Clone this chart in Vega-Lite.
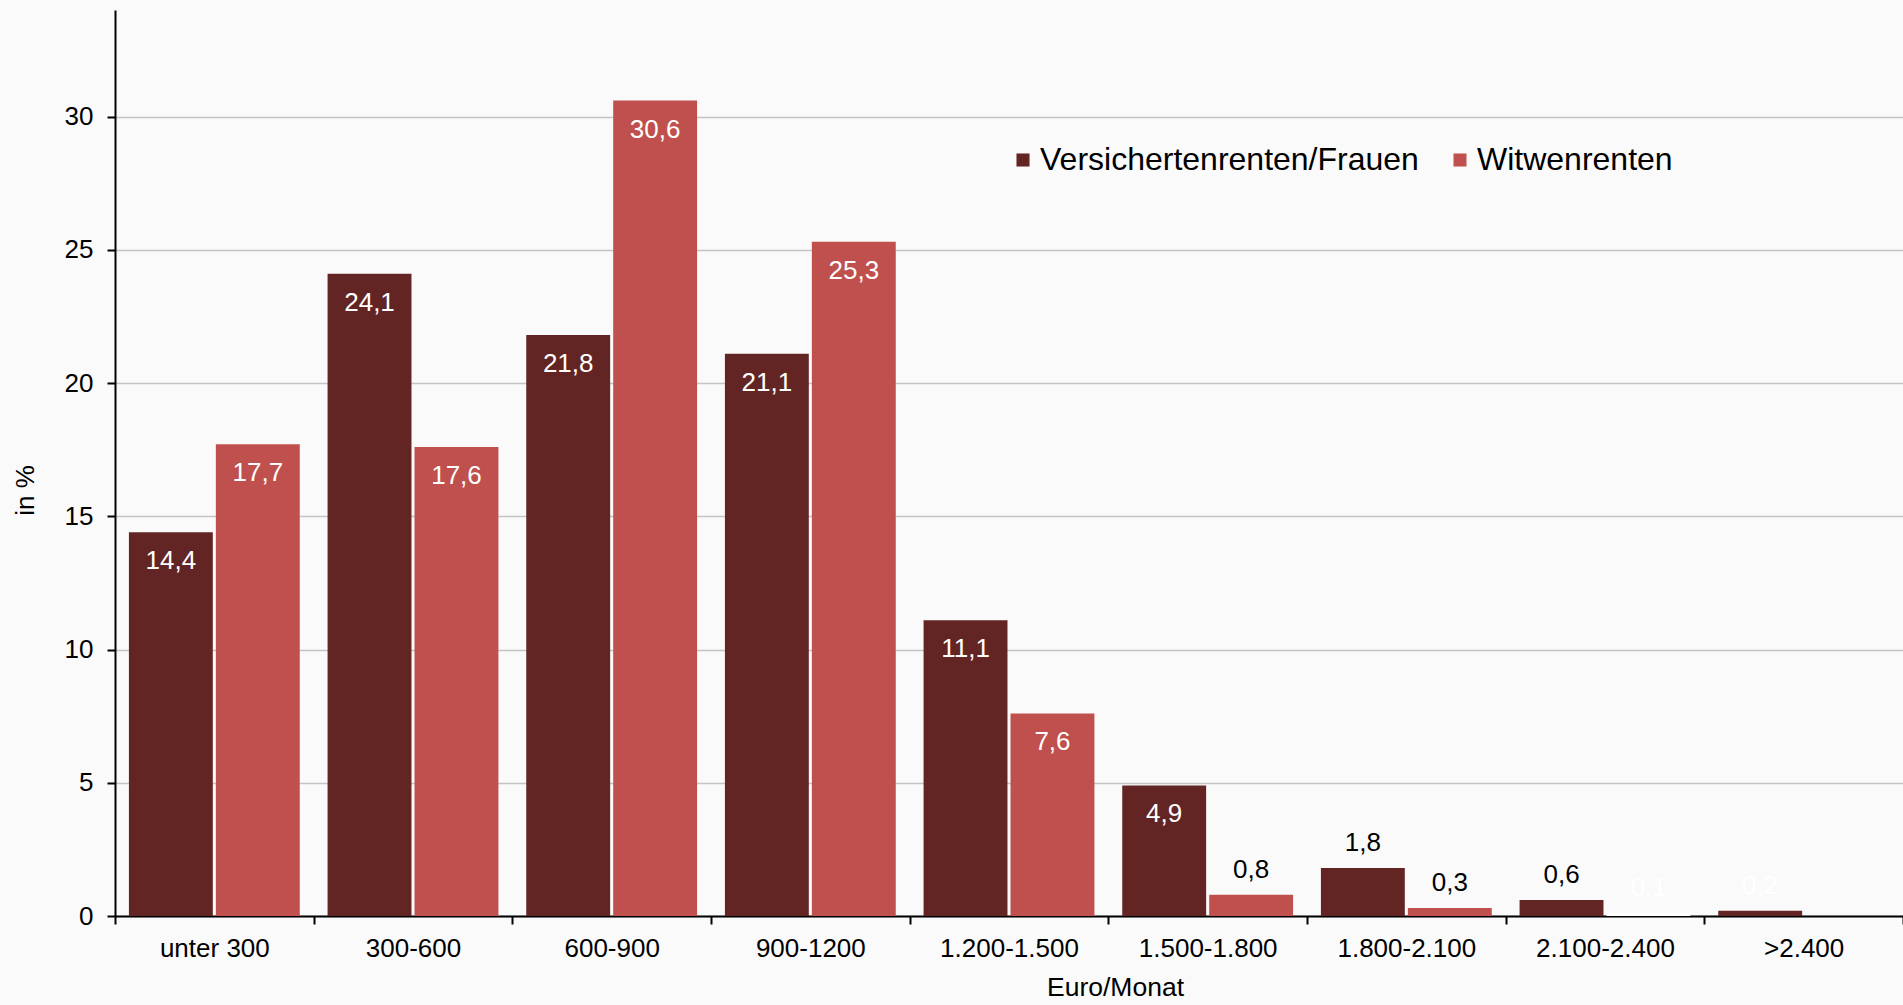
{
  "$schema": "https://vega.github.io/schema/vega-lite/v6.json",
  "width": 1788,
  "height": 906,
  "autosize": {"type": "none"},
  "padding": {"left": 115, "top": 10, "right": 0, "bottom": 89},
  "background": "#fafafa",
  "config": {
    "view": {"stroke": null},
    "font": "Liberation Sans",
    "locale": {"number": {"decimal": ",", "thousands": ".", "grouping": [3], "currency": ["", " €"]}}
  },
  "data": {
    "values": [
      {"kat": "unter 300", "serie": "Versichertenrenten/Frauen", "wert": 14.4},
      {"kat": "unter 300", "serie": "Witwenrenten", "wert": 17.7},
      {"kat": "300-600", "serie": "Versichertenrenten/Frauen", "wert": 24.1},
      {"kat": "300-600", "serie": "Witwenrenten", "wert": 17.6},
      {"kat": "600-900", "serie": "Versichertenrenten/Frauen", "wert": 21.8},
      {"kat": "600-900", "serie": "Witwenrenten", "wert": 30.6},
      {"kat": "900-1200", "serie": "Versichertenrenten/Frauen", "wert": 21.1},
      {"kat": "900-1200", "serie": "Witwenrenten", "wert": 25.3},
      {"kat": "1.200-1.500", "serie": "Versichertenrenten/Frauen", "wert": 11.1},
      {"kat": "1.200-1.500", "serie": "Witwenrenten", "wert": 7.6},
      {"kat": "1.500-1.800", "serie": "Versichertenrenten/Frauen", "wert": 4.9},
      {"kat": "1.500-1.800", "serie": "Witwenrenten", "wert": 0.8},
      {"kat": "1.800-2.100", "serie": "Versichertenrenten/Frauen", "wert": 1.8},
      {"kat": "1.800-2.100", "serie": "Witwenrenten", "wert": 0.3},
      {"kat": "2.100-2.400", "serie": "Versichertenrenten/Frauen", "wert": 0.6},
      {"kat": "2.100-2.400", "serie": "Witwenrenten", "wert": 0.1},
      {"kat": ">2.400", "serie": "Versichertenrenten/Frauen", "wert": 0.2}
    ]
  },
  "encoding": {
    "x": {
      "field": "kat",
      "type": "nominal",
      "sort": null,
      "scale": {"paddingInner": 0, "paddingOuter": 0},
      "axis": {
        "title": "Euro/Monat",
        "titleFontSize": 26.5,
        "titleFontWeight": "normal",
        "titleColor": "#000000",
        "titleX": 1000,
        "titlePadding": 13,
        "labelAngle": 0,
        "labelFontSize": 26,
        "labelColor": "#000000",
        "labelPadding": 11,
        "domainColor": "#000000",
        "domainWidth": 2,
        "tickColor": "#000000",
        "tickWidth": 2,
        "tickSize": 8,
        "tickBand": "extent",
        "grid": false
      }
    },
    "xOffset": {
      "field": "serie",
      "type": "nominal",
      "scale": {"paddingInner": 0.035, "paddingOuter": 0.16}
    }
  },
  "layer": [
    {
      "mark": {"type": "bar"},
      "encoding": {
        "y": {
          "field": "wert",
          "type": "quantitative",
          "scale": {"domain": [0, 34], "nice": false},
          "axis": {
            "title": "in %",
            "titleFontSize": 26,
            "titleFontWeight": "normal",
            "titleColor": "#000000",
            "titlePadding": 26,
            "titleY": 480,
            "values": [0, 5, 10, 15, 20, 25, 30],
            "labelFontSize": 26,
            "labelColor": "#000000",
            "labelPadding": 14,
            "domainColor": "#000000",
            "domainWidth": 2,
            "tickColor": "#000000",
            "tickWidth": 2,
            "tickSize": 8,
            "gridColor": "#c4c4c4",
            "gridWidth": 1.5
          }
        },
        "color": {
          "condition": {"test": "datum.wert < 0.15", "value": "#ffffff"},
          "field": "serie",
          "type": "nominal",
          "scale": {"domain": ["Versichertenrenten/Frauen", "Witwenrenten"], "range": ["#632523", "#c0504d"]},
          "legend": {
            "title": null,
            "orient": "none",
            "direction": "horizontal",
            "legendX": 892,
            "legendY": 134,
            "symbolType": "square",
            "symbolSize": 170,
            "symbolStrokeWidth": 0,
            "labelFontSize": 32,
            "labelColor": "#000000",
            "labelOffset": 1,
            "columnPadding": 25,
            "labelLimit": 600
          }
        }
      }
    },
    {
      "transform": [{"filter": "datum.wert >= 4"}],
      "mark": {"type": "text", "baseline": "top", "dy": 16, "fontSize": 26, "color": "#ffffff"},
      "encoding": {
        "y": {"field": "wert", "type": "quantitative"},
        "text": {"field": "wert", "type": "quantitative", "format": ".1f"}
      }
    },
    {
      "transform": [{"filter": "datum.wert < 4"}],
      "mark": {"type": "text", "baseline": "bottom", "dy": -12, "fontSize": 26},
      "encoding": {
        "y": {"field": "wert", "type": "quantitative"},
        "text": {"field": "wert", "type": "quantitative", "format": ".1f"},
        "color": {"condition": {"test": "datum.wert < 0.25", "value": "#ffffff"}, "value": "#000000"}
      }
    }
  ]
}
